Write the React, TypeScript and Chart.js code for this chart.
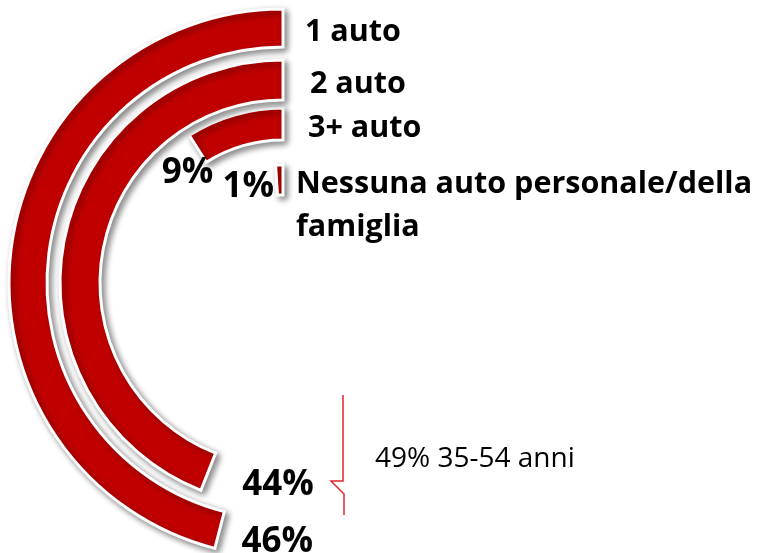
import React, { useEffect, useRef } from 'react';
import { Chart, registerables } from 'chart.js';

Chart.register(...registerables);

// ---- data ----
const categories: string[][] = [
  ['1 auto'],
  ['2 auto'],
  ['3+ auto'],
  ['Nessuna auto personale/della', 'famiglia'],
];
const values: number[] = [46, 44, 9, 1];
const total = 100;
const calloutText = '49% 35-54 anni';

// ---- styles ----
const RED = '#C00000';
const CLEAR = 'rgba(0,0,0,0)';
const FONT = '"Open Sans", "Noto Sans", sans-serif';
const ringWeights = [38, 40, 32, 30];
const gapWeights = [9, 13, 8, 25];
const catDx = [22, 27, 25, 13];
const pctOff: [number, number][] = [
  [22, 22],
  [34, 23],
  [-36, 34],
  [-54, 17],
];

export default function App() {
  const ref = useRef<HTMLCanvasElement>(null);

  useEffect(() => {
    const canvas = ref.current;
    if (!canvas) return;

    const datasets: any[] = [];
    const ringIdx: number[] = [];
    values.forEach((v, i) => {
      datasets.push({
        data: [total],
        backgroundColor: [CLEAR],
        borderWidth: 0,
        hoverBorderWidth: 0,
        hoverOffset: 0,
        weight: gapWeights[i],
      });
      ringIdx.push(datasets.length);
      datasets.push({
        data: [total - v, v],
        backgroundColor: [CLEAR, RED],
        borderColor: '#ffffff',
        borderWidth: [0, 3],
        hoverBorderWidth: [0, 3],
        borderJoinStyle: 'miter',
        hoverOffset: 0,
        weight: ringWeights[i],
      });
    });

    const shadowPlugin = {
      id: 'ringShadow',
      beforeDatasetsDraw(chart: any) {
        const ctx = chart.ctx;
        ctx.save();
        ctx.shadowColor = 'rgba(0,0,0,0.45)';
        ctx.shadowBlur = 6;
        ctx.shadowOffsetX = 3;
        ctx.shadowOffsetY = 3;
      },
      afterDatasetsDraw(chart: any) {
        chart.ctx.restore();
      },
    };

    const labelPlugin = {
      id: 'ringLabels',
      afterDraw(chart: any) {
        const ctx = chart.ctx;
        ctx.save();
        ctx.fillStyle = '#000000';
        ctx.textBaseline = 'alphabetic';
        ctx.textAlign = 'left';
        ringIdx.forEach((di, i) => {
          const arc = chart.getDatasetMeta(di).data[1];
          const { x, y, startAngle, innerRadius, outerRadius } = arc.getProps([
            'x', 'y', 'startAngle', 'innerRadius', 'outerRadius',
          ]);
          const rMid = (innerRadius + outerRadius) / 2;
          ctx.font = `bold 30.5px ${FONT}`;
          categories[i].forEach((line, k) => {
            ctx.fillText(line, x + catDx[i], y - rMid + 13 + k * 43);
          });
          const ex = x + rMid * Math.cos(startAngle);
          const ey = y + rMid * Math.sin(startAngle);
          ctx.font = `bold 35px ${FONT}`;
          ctx.fillText(`${values[i]}%`, ex + pctOff[i][0], ey + pctOff[i][1]);
        });

        // callout bracket
        ctx.strokeStyle = '#E3262C';
        ctx.lineWidth = 1.5;
        ctx.lineJoin = 'miter';
        ctx.beginPath();
        ctx.moveTo(343, 395);
        ctx.lineTo(343, 481);
        ctx.lineTo(331, 481);
        ctx.lineTo(344, 494);
        ctx.lineTo(344, 515);
        ctx.stroke();

        ctx.font = `28px ${FONT}`;
        ctx.fillText(calloutText, 375, 467);
        ctx.restore();
      },
    };

    const chart = new Chart(canvas, {
      type: 'doughnut',
      data: { labels: ['', ''], datasets },
      options: {
        responsive: false,
        maintainAspectRatio: false,
        animation: false,
        events: [],
        cutout: 88,
        rotation: 0,
        layout: { padding: { left: 0, top: 0, right: 197, bottom: 0 } },
        plugins: {
          legend: { display: false },
          tooltip: { enabled: false },
        },
      } as any,
      plugins: [shadowPlugin, labelPlugin],
    });

    return () => chart.destroy();
  }, []);

  return (
    <div
      style={{
        position: 'fixed',
        left: 0,
        top: 0,
        width: 763,
        height: 553,
        overflow: 'hidden',
        background: '#ffffff',
      }}
    >
      <canvas ref={ref} width={763} height={566} style={{ display: 'block' }} />
    </div>
  );
}
